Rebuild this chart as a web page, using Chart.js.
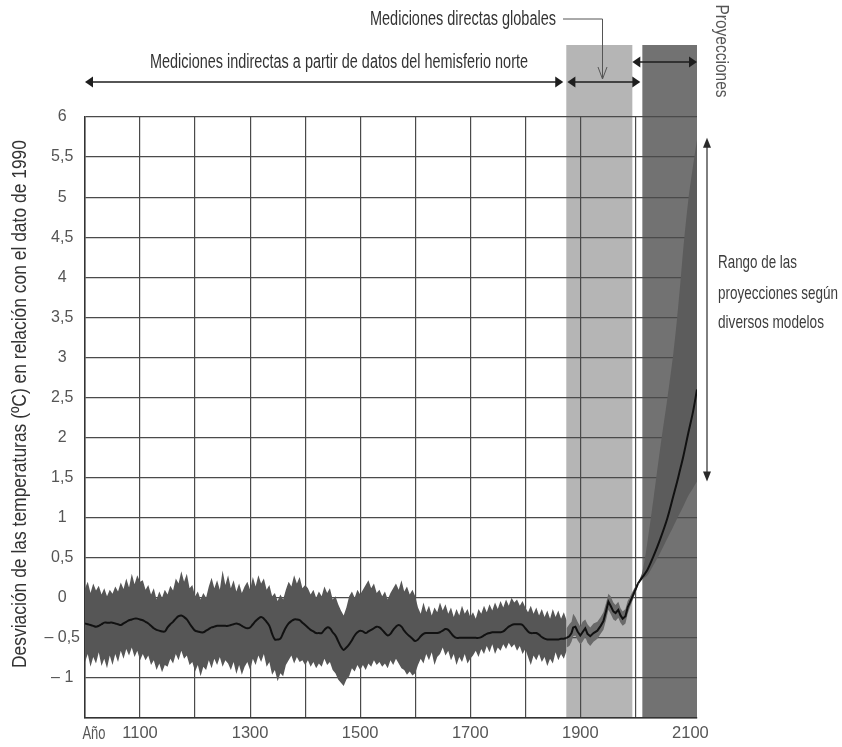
<!DOCTYPE html>
<html><head><meta charset="utf-8">
<script src="https://cdn.jsdelivr.net/npm/chart.js@4"></script>
<style>html,body{margin:0;padding:0;background:#fff;}</style>
</head><body>
<canvas id="c" width="842" height="747"></canvas>
<script>
// ---- DATA ----
const reconStart = 1000, reconStep = 5;
const reconMean = [
-0.32,-0.33,-0.34,-0.35,-0.36,-0.35,-0.33,-0.31,-0.31,-0.31,-0.31,-0.32,-0.33,-0.34,-0.32,-0.30,-0.28,-0.27,-0.26,-0.26,-0.27,
-0.28,-0.30,-0.32,-0.35,-0.38,-0.40,-0.41,-0.42,-0.42,-0.37,-0.33,-0.30,-0.26,-0.23,-0.22,-0.24,-0.27,-0.32,-0.37,-0.41,
-0.42,-0.43,-0.43,-0.41,-0.39,-0.37,-0.36,-0.35,-0.35,-0.35,-0.35,-0.35,-0.34,-0.33,-0.32,-0.33,-0.35,-0.37,-0.38,-0.37,
-0.33,-0.29,-0.26,-0.24,-0.26,-0.30,-0.35,-0.45,-0.52,-0.52,-0.51,-0.44,-0.37,-0.32,-0.29,-0.27,-0.27,-0.28,-0.31,-0.34,
-0.37,-0.40,-0.42,-0.44,-0.44,-0.44,-0.40,-0.37,-0.38,-0.43,-0.47,-0.54,-0.61,-0.65,-0.62,-0.58,-0.53,-0.47,-0.43,-0.41,
-0.42,-0.44,-0.42,-0.40,-0.38,-0.36,-0.37,-0.40,-0.44,-0.47,-0.45,-0.40,-0.36,-0.34,-0.36,-0.41,-0.45,-0.48,-0.51,-0.54,
-0.52,-0.48,-0.45,-0.44,-0.44,-0.44,-0.44,-0.44,-0.43,-0.41,-0.39,-0.40,-0.44,-0.48,-0.50,-0.50,-0.50,-0.50,-0.50,-0.50,
-0.50,-0.50,-0.50,-0.49,-0.47,-0.45,-0.44,-0.43,-0.43,-0.43,-0.43,-0.42,-0.39,-0.36,-0.34,-0.33,-0.33,-0.33,-0.34,-0.38,
-0.42,-0.44,-0.44,-0.44,-0.46,-0.49,-0.51,-0.52,-0.52,-0.52,-0.52,-0.52,-0.51,-0.51,-0.50
];
const reconUpper = [
0.12,0.20,0.06,0.18,0.09,0.15,0.04,0.12,0.02,0.10,0.05,0.14,0.08,0.19,0.11,0.24,0.13,0.30,0.17,0.28,0.20,
0.22,0.10,0.16,0.04,0.12,-0.02,0.08,0.00,0.10,0.04,0.15,0.09,0.24,0.18,0.33,0.20,0.30,0.12,0.16,0.02,
0.08,-0.02,0.06,0.00,0.14,0.25,0.12,0.22,0.10,0.34,0.16,0.28,0.12,0.22,0.08,0.18,0.06,0.14,0.20,0.10,
0.26,0.14,0.28,0.18,0.24,0.10,0.16,0.02,0.06,-0.04,0.04,-0.02,0.10,0.20,0.14,0.28,0.18,0.26,0.12,0.16,
0.12,0.04,0.10,0.00,0.08,0.02,0.14,0.06,0.12,-0.02,0.02,-0.08,-0.16,-0.22,-0.12,0.02,0.08,0.00,0.10,0.04,
0.10,0.16,0.22,0.12,0.18,0.06,0.10,0.02,0.08,-0.02,0.06,0.12,0.18,0.10,0.22,0.08,0.14,0.04,0.10,0.02,
-0.12,-0.20,-0.06,-0.18,-0.10,-0.22,-0.12,-0.18,-0.06,-0.16,-0.08,-0.20,-0.12,-0.24,-0.14,-0.22,-0.10,-0.20,-0.14,-0.24,
-0.18,-0.26,-0.14,-0.20,-0.10,-0.18,-0.08,-0.16,-0.06,-0.14,-0.04,-0.12,-0.02,-0.10,0.00,-0.06,-0.02,-0.10,-0.04,-0.12,
-0.18,-0.10,-0.20,-0.12,-0.22,-0.14,-0.24,-0.16,-0.26,-0.14,-0.24,-0.16,-0.26,-0.18,-0.28
];
const reconLower = [
-0.80,-0.70,-0.86,-0.74,-0.82,-0.68,-0.85,-0.76,-0.88,-0.72,-0.84,-0.70,-0.80,-0.66,-0.76,-0.64,-0.72,-0.62,-0.74,-0.66,-0.78,
-0.70,-0.78,-0.72,-0.84,-0.78,-0.90,-0.82,-0.93,-0.84,-0.86,-0.76,-0.82,-0.70,-0.78,-0.66,-0.76,-0.72,-0.84,-0.80,-0.92,
-0.84,-0.98,-0.86,-0.90,-0.78,-0.88,-0.76,-0.84,-0.74,-0.86,-0.78,-0.82,-0.90,-0.80,-0.95,-0.84,-0.96,-0.86,-0.80,-0.90,
-0.76,-0.84,-0.72,-0.80,-0.70,-0.86,-0.80,-0.96,-0.90,-1.04,-0.94,-0.98,-0.84,-0.78,-0.72,-0.82,-0.74,-0.80,-0.78,-0.84,
-0.78,-0.86,-0.80,-0.88,-0.82,-0.86,-0.76,-0.84,-0.80,-0.90,-0.94,-1.02,-1.06,-1.10,-1.02,-0.98,-0.88,-0.92,-0.84,-0.90,
-0.84,-0.90,-0.82,-0.86,-0.78,-0.84,-0.80,-0.86,-0.82,-0.88,-0.78,-0.84,-0.76,-0.82,-0.88,-0.90,-0.96,-0.92,-0.97,-0.94,
-0.84,-0.76,-0.82,-0.70,-0.78,-0.68,-0.84,-0.74,-0.70,-0.62,-0.72,-0.66,-0.78,-0.70,-0.84,-0.74,-0.80,-0.70,-0.82,-0.76,
-0.72,-0.66,-0.74,-0.64,-0.70,-0.60,-0.68,-0.58,-0.70,-0.62,-0.66,-0.58,-0.64,-0.56,-0.62,-0.58,-0.66,-0.60,-0.70,-0.64,
-0.74,-0.84,-0.72,-0.78,-0.70,-0.80,-0.74,-0.85,-0.76,-0.82,-0.68,-0.78,-0.70,-0.76,-0.66
];
const instYears = [1875,1880,1884,1887,1891,1895,1900,1904,1909,1913,1918,1924,1931,1937,1942,1947,1951,1955,1960,1964,1969,1973,1977,1982,1986,1990,1995,2000,2005];
const instMean  = [-0.50,-0.48,-0.44,-0.37,-0.36,-0.42,-0.47,-0.43,-0.38,-0.45,-0.48,-0.44,-0.41,-0.35,-0.29,-0.16,-0.05,-0.10,-0.17,-0.19,-0.15,-0.22,-0.26,-0.23,-0.12,-0.06,0.02,0.10,0.18];
const instUpper = [-0.38,-0.33,-0.30,-0.20,-0.24,-0.30,-0.36,-0.30,-0.27,-0.33,-0.37,-0.32,-0.30,-0.24,-0.18,-0.06,0.05,0.02,-0.06,-0.09,-0.05,-0.13,-0.17,-0.14,-0.04,0.01,0.08,0.14,0.20];
const instLower = [-0.62,-0.60,-0.55,-0.48,-0.47,-0.53,-0.58,-0.55,-0.49,-0.56,-0.60,-0.55,-0.51,-0.45,-0.40,-0.27,-0.15,-0.20,-0.27,-0.29,-0.25,-0.31,-0.35,-0.32,-0.20,-0.12,-0.03,0.06,0.16];
const projYears = [2005,2013,2022,2033,2045,2058,2069,2076,2082,2087,2096,2105,2112];
const projMean  = [0.18,0.26,0.35,0.52,0.73,0.99,1.27,1.45,1.62,1.76,2.05,2.33,2.60];
const projUpper = [0.18,0.33,0.70,1.24,1.86,2.48,3.05,3.50,3.95,4.35,4.95,5.40,5.72];
const projLower = [0.18,0.23,0.28,0.41,0.56,0.74,0.89,0.99,1.07,1.14,1.27,1.37,1.45];
const rangeArrow = [1.45, 5.74];
const directPeriod = [1874.5, 1994.5];
const projPeriod = [2012.7, 2112];
const indirectArrow = [1000, 1869];
const directArrow = [1876.5, 2009];
const projArrow = [1994.5, 2112];
const xTickYears  = [1000,1100,1200,1300,1400,1500,1600,1700,1800,1900,2000,2100];
const xTickLabels = ['', '1100', '', '1300', '', '1500', '', '1700', '', '1900', '', '2100'];
const yTickLabels = ['', '– 1', '– 0,5', '0', '0,5', '1', '1,5', '2', '2,5', '3', '3,5', '4', '4,5', '5', '5,5', '6'];
const yTitle = 'Desviación de las temperaturas (ºC) en relación con el dato de 1990';

// ---- helpers ----
const reconYears = reconMean.map((_, i) => reconStart + i * reconStep);
const pts = (xs, ys) => xs.map((x, i) => ({x: x, y: ys[i]}));
const SANS = '"Liberation Sans", Arial, sans-serif';

function fitText(ctx, txt, x, y, w, font, color, align, rot) {
  ctx.save();
  ctx.font = font; ctx.fillStyle = color; ctx.textBaseline = 'middle';
  const m = ctx.measureText(txt).width;
  ctx.translate(x, y);
  if (rot) ctx.rotate(rot);
  ctx.scale(w / m, 1);
  ctx.textAlign = align;
  ctx.fillText(txt, 0, 0);
  ctx.restore();
}
function head(ctx, x, y, dx, dy, len, half) {
  ctx.beginPath();
  ctx.moveTo(x, y);
  ctx.lineTo(x - dx * len - dy * half, y - dy * len - dx * half);
  ctx.lineTo(x - dx * len + dy * half, y - dy * len + dx * half);
  ctx.closePath(); ctx.fill();
}
function hArrow(ctx, xa, xb, y) {
  ctx.beginPath(); ctx.moveTo(xa + 4, y); ctx.lineTo(xb - 4, y); ctx.stroke();
  head(ctx, xa, y, -1, 0, 8, 5.5);
  head(ctx, xb, y, 1, 0, 8, 5.5);
}
function vArrow(ctx, x, ya, yb) {
  ctx.beginPath(); ctx.moveTo(x, ya + 4); ctx.lineTo(x, yb - 4); ctx.stroke();
  head(ctx, x, ya, 0, -1, 10, 4);
  head(ctx, x, yb, 0, 1, 10, 4);
}

const bandPlugin = {
  id: 'bands',
  beforeDraw(chart) {
    const {ctx, chartArea, scales: {x}} = chart;
    const top = 45;
    ctx.save();
    let a = x.getPixelForValue(directPeriod[0]), b = x.getPixelForValue(directPeriod[1]);
    ctx.fillStyle = '#b5b5b5';
    ctx.fillRect(a, top, b - a, chartArea.bottom - top);
    a = x.getPixelForValue(projPeriod[0]); b = x.getPixelForValue(projPeriod[1]);
    ctx.fillStyle = '#727272';
    ctx.fillRect(a, top, b - a, chartArea.bottom - top);
    ctx.restore();
  }
};

const notePlugin = {
  id: 'notes',
  afterDraw(chart) {
    const {ctx, chartArea, scales: {x, y}} = chart;
    ctx.save();
    ctx.fillStyle = '#1e1e1e'; ctx.strokeStyle = '#1e1e1e'; ctx.lineWidth = 1.6;
    hArrow(ctx, x.getPixelForValue(indirectArrow[0]), x.getPixelForValue(indirectArrow[1]), 82);
    hArrow(ctx, x.getPixelForValue(directArrow[0]), x.getPixelForValue(directArrow[1]), 82);
    hArrow(ctx, x.getPixelForValue(projArrow[0]), x.getPixelForValue(projArrow[1]), 62);
    ctx.strokeStyle = '#555'; ctx.lineWidth = 1;
    ctx.beginPath(); ctx.moveTo(563, 19); ctx.lineTo(602.5, 19); ctx.lineTo(602.5, 79); ctx.stroke();
    ctx.beginPath(); ctx.moveTo(598, 67); ctx.lineTo(602.5, 79); ctx.lineTo(607, 67); ctx.stroke();
    ctx.strokeStyle = '#2a2a2a'; ctx.fillStyle = '#2a2a2a'; ctx.lineWidth = 1.2;
    vArrow(ctx, 707, y.getPixelForValue(rangeArrow[1]), y.getPixelForValue(rangeArrow[0]));
    ctx.restore();
    fitText(ctx, yTitle, 20, 404, 528, '20px ' + SANS, '#333', 'center', -Math.PI / 2);
    fitText(ctx, 'Mediciones indirectas a partir de datos del hemisferio norte', 339, 62, 378, '20px ' + SANS, '#333', 'center');
    fitText(ctx, 'Mediciones directas globales', 556, 19, 186, '20px ' + SANS, '#333', 'right');
    fitText(ctx, 'Proyecciones', 721, 51, 93, '19px ' + SANS, '#555', 'center', Math.PI / 2);
    fitText(ctx, 'Rango de las', 718, 263, 79, '19px ' + SANS, '#3c3c3c', 'left');
    fitText(ctx, 'proyecciones según', 718, 294, 120, '19px ' + SANS, '#3c3c3c', 'left');
    fitText(ctx, 'diversos modelos', 718, 323, 106, '19px ' + SANS, '#3c3c3c', 'left');
    fitText(ctx, 'Año', 94, 734, 23, '18px ' + SANS, '#555', 'center');
  }
};

const clear = 'rgba(0,0,0,0)';
new Chart(document.getElementById('c'), {
  type: 'line',
  data: {
    datasets: [
      {data: pts(reconYears, reconMean), borderColor: '#111', borderWidth: 2, pointRadius: 0, tension: 0.4, fill: false},
      {data: pts(instYears, instMean), borderColor: '#111', borderWidth: 2, pointRadius: 0, tension: 0, fill: false},
      {data: pts(projYears, projMean), borderColor: '#111', borderWidth: 2, pointRadius: 0, tension: 0.35, fill: false},
      {data: pts(reconYears, reconLower), borderColor: clear, borderWidth: 1, pointRadius: 0, fill: false},
      {data: pts(reconYears, reconUpper), borderColor: clear, borderWidth: 1, pointRadius: 0, fill: '-1', backgroundColor: '#565656'},
      {data: pts(instYears, instLower), borderColor: clear, borderWidth: 1, pointRadius: 0, fill: false},
      {data: pts(instYears, instUpper), borderColor: clear, borderWidth: 1, pointRadius: 0, fill: '-1', backgroundColor: '#6a6a6a'},
      {data: pts(projYears, projLower), borderColor: clear, borderWidth: 1, pointRadius: 0, fill: false, tension: 0.3},
      {data: pts(projYears, projUpper), borderColor: clear, borderWidth: 1, pointRadius: 0, fill: '-1', backgroundColor: '#5c5c5c', tension: 0.3}
    ]
  },
  options: {
    responsive: false, animation: false, devicePixelRatio: 1,
    layout: {padding: {top: 117, right: 145, bottom: 0, left: 0}},
    plugins: {legend: {display: false}, tooltip: {enabled: false}},
    scales: {
      x: {
        type: 'linear', min: 1000, max: 2112,
        afterBuildTicks: s => { s.ticks = xTickYears.map(v => ({value: v})); },
        afterFit: s => { s.height = 29; },
        ticks: {autoSkip: false, maxRotation: 0, padding: 6, color: '#555',
          font: {family: SANS, size: 16.5},
          callback: (v, i) => xTickLabels[i]},
        grid: {drawTicks: false, lineWidth: 1.2,
          color: c => (c.tick && c.tick.value === 2100) ? clear : '#4a4a4a'},
        border: {color: '#333', width: 1.5}
      },
      y: {
        min: -1.5, max: 6,
        afterFit: s => { s.width = 85; },
        ticks: {stepSize: 0.5, autoSkip: false, padding: 5, crossAlign: 'center', color: '#555',
          font: {family: SANS, size: 16},
          callback: (v, i) => yTickLabels[i]},
        grid: {drawTicks: false, lineWidth: 1.2, color: '#4a4a4a'},
        border: {color: '#333', width: 1.5},
        title: {display: false, text: yTitle}
      }
    }
  },
  plugins: [bandPlugin, notePlugin]
});
</script>
</body></html>
